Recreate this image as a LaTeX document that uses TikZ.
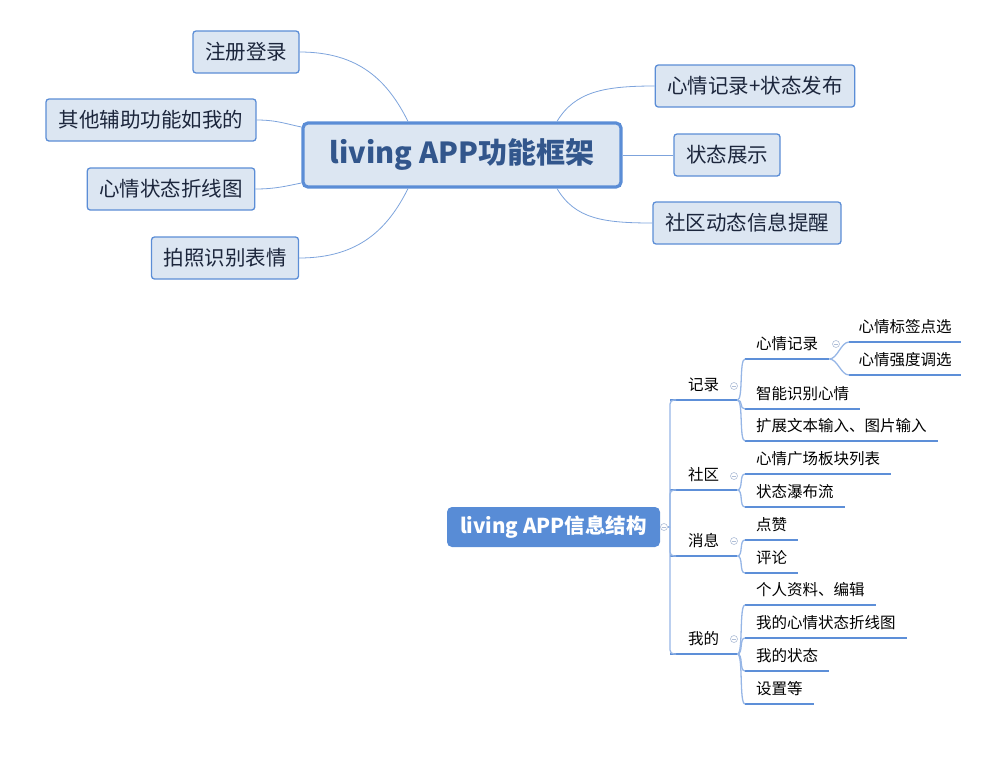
\documentclass[tikz,border=0pt]{standalone}
\usepackage{fontspec}
\setmainfont{Noto Sans CJK SC}
\usetikzlibrary{calc}

\definecolor{edgeblue}{RGB}{91,141,214}
\definecolor{boxfill}{RGB}{220,230,242}
\definecolor{linkblue}{RGB}{125,163,220}
\definecolor{titleblue}{RGB}{50,86,140}
\definecolor{textnavy}{RGB}{28,38,60}
\definecolor{rootblue}{RGB}{88,140,214}
\definecolor{barblue}{RGB}{93,143,216}
\definecolor{stemblue}{RGB}{150,182,230}
\definecolor{foldgray}{RGB}{175,190,215}

\begin{document}
\begin{tikzpicture}[x=1pt, y=-1pt]
\tikzstyle{t} = [draw=edgeblue, fill=boxfill, line width=1.3pt, rounded corners=3pt, inner xsep=12pt, minimum height=42pt, text=textnavy, font=\fontsize{20.5}{24}\selectfont]
\tikzstyle{hub} = [t, line width=3.2pt, rounded corners=5pt, minimum width=318pt, minimum height=64pt, text=titleblue, font=\fontsize{29}{32}\selectfont\bfseries]
\tikzstyle{e} = [draw=linkblue, line width=0.8pt]
\tikzstyle{root} = [fill=rootblue, rounded corners=5pt, minimum width=213pt, minimum height=40pt, text=white, font=\fontsize{20.5}{22}\selectfont\bfseries]
\tikzstyle{bar} = [draw=barblue, line width=2.2pt]
\tikzstyle{stem} = [draw=stemblue, line width=1.3pt]
\tikzstyle{l1} = [anchor=south west, minimum width=67pt, minimum height=30pt, inner ysep=0pt, font=\fontsize{15.5}{18}\selectfont, append after command={(\tikzlastnode.south west) edge[bar] (\tikzlastnode.south east)}]
\tikzstyle{l2} = [anchor=south west, inner xsep=11pt, minimum height=30pt, inner ysep=0pt, font=\fontsize{15.5}{18}\selectfont, append after command={(\tikzlastnode.south west) edge[bar] (\tikzlastnode.south east)}]
\tikzstyle{fold} = [circle, draw=foldgray, fill=white, line width=0.6pt, minimum size=7pt, inner sep=0pt, path picture={\draw[foldgray, line width=0.6pt] ([xshift=-2pt]path picture bounding box.center) -- ([xshift=2pt]path picture bounding box.center);}]

\useasboundingbox (0,0) rectangle (986,761);

% function framework
\node[hub] (hub) at (462,155) {living APP功能框架};
\node[t] (reg) at (246,52) {注册登录};
\node[t, minimum width=210pt] (oth) at (151,120) {其他辅助功能如我的};
\node[t] (mline) at (171,189) {心情状态折线图};
\node[t] (photo) at (225,258) {拍照识别表情};
\node[t] (mrel) at (755,86) {心情记录+状态发布};
\node[t] (show) at (727,155) {状态展示};
\node[t] (comm) at (747,223) {社区动态信息提醒};

\draw[e] (reg.east) .. controls +(60,0) and +(-20,-40) .. ($(hub.north)+(-54,0)$);
\draw[e] (oth.east) .. controls +(20,0) and +(-15,-3) .. ($(hub.west)+(0,-28)$);
\draw[e] (mline.east) .. controls +(20,0) and +(-15,3) .. ($(hub.west)+(0,28)$);
\draw[e] (photo.east) .. controls +(60,0) and +(-20,40) .. ($(hub.south)+(-54,0)$);
\draw[e] ($(hub.north)+(95,0)$) .. controls +(18,-30) and +(-50,0) .. (mrel.west);
\draw[e] (hub.east) -- (show.west);
\draw[e] ($(hub.south)+(95,0)$) .. controls +(18,30) and +(-50,0) .. (comm.west);

% information structure
\node[root] (root) at (553.5,527) {living APP信息结构};
\node[fold] (f0) at (664,527) {};
\coordinate (tr) at (670,527);

\node[l1] (rec) at (670,400) {记录};
\node[l1] (soc) at (670,490) {社区};
\node[l1] (msg) at (670,556) {消息};
\node[l1] (mine) at (670,654) {我的};
\node[fold] (f1) at (734,386) {};
\node[fold] (f2) at (734,476) {};
\node[fold] (f3) at (734,541) {};
\node[fold] (f4) at (734,639) {};

\node[l2] (mrec) at (745,359) {心情记录};
\node[l2] (smart) at (745,409) {智能识别心情};
\node[l2] (ext) at (745,441) {扩展文本输入、图片输入};
\node[fold] (f5) at (836,344) {};
\node[l2, inner xsep=9.5pt] (tag) at (849,342) {心情标签点选};
\node[l2, inner xsep=9.5pt] (intens) at (849,375) {心情强度调选};
\node[l2] (square) at (745,474) {心情广场板块列表};
\node[l2] (fall) at (745,507) {状态瀑布流};
\node[l2] (like) at (745,540) {点赞};
\node[l2] (cmt) at (745,573) {评论};
\node[l2] (prof) at (745,605) {个人资料、编辑};
\node[l2] (mchart) at (745,638) {我的心情状态折线图};
\node[l2] (mst) at (745,671) {我的状态};
\node[l2] (setg) at (745,704) {设置等};

\draw[stem] (root.east) -- (f0.west);
\draw[stem] (f0.east) -- (tr);
\draw[stem, rounded corners=4pt] (tr) |- ([xshift=6pt]rec.south west);
\draw[stem, rounded corners=4pt] (tr) |- ([xshift=6pt]soc.south west);
\draw[stem, rounded corners=4pt] (tr) |- ([xshift=6pt]msg.south west);
\draw[stem, rounded corners=4pt] (tr) |- ([xshift=6pt]mine.south west);

\draw[stem] (rec.south east) .. controls +(6,0) and +(-6,0) .. (mrec.south west);
\draw[stem] (rec.south east) .. controls +(6,0) and +(-6,0) .. (smart.south west);
\draw[stem] (rec.south east) .. controls +(6,0) and +(-6,0) .. (ext.south west);
\draw[stem] (mrec.south east) .. controls +(8,0) and +(-8,0) .. (tag.south west);
\draw[stem] (mrec.south east) .. controls +(8,0) and +(-8,0) .. (intens.south west);
\draw[stem] (soc.south east) .. controls +(6,0) and +(-6,0) .. (square.south west);
\draw[stem] (soc.south east) .. controls +(6,0) and +(-6,0) .. (fall.south west);
\draw[stem] (msg.south east) .. controls +(6,0) and +(-6,0) .. (like.south west);
\draw[stem] (msg.south east) .. controls +(6,0) and +(-6,0) .. (cmt.south west);
\draw[stem] (mine.south east) .. controls +(6,0) and +(-6,0) .. (prof.south west);
\draw[stem] (mine.south east) .. controls +(6,0) and +(-6,0) .. (mchart.south west);
\draw[stem] (mine.south east) .. controls +(6,0) and +(-6,0) .. (mst.south west);
\draw[stem] (mine.south east) .. controls +(6,0) and +(-6,0) .. (setg.south west);
\end{tikzpicture}
\end{document}
